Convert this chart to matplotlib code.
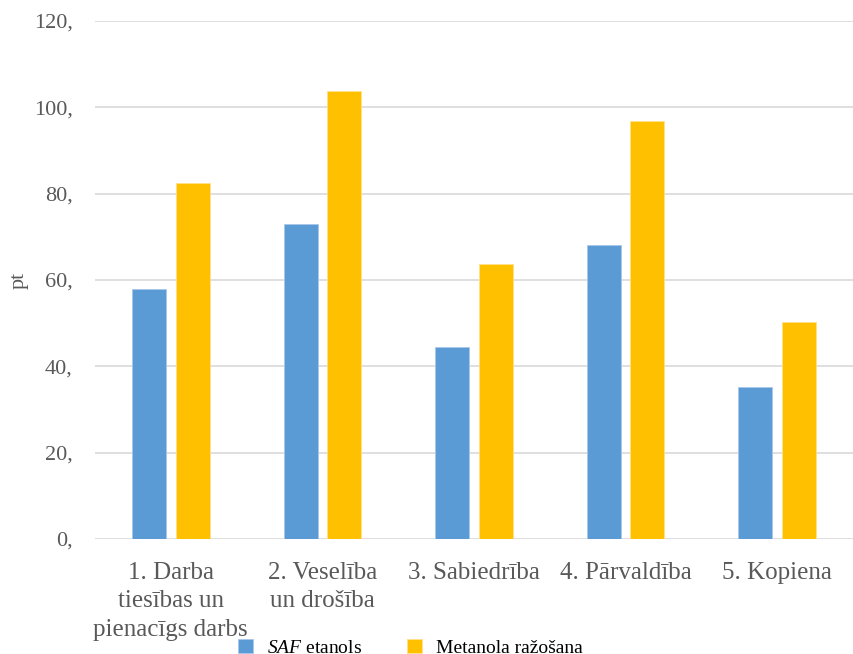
import matplotlib
matplotlib.use("Agg")
import matplotlib.pyplot as plt
import numpy as np

## Scores per sustainability category

categories = ["1. Darba\ntiesības un\npienacīgs darbs", "2. Veselība\nun drošība",
              "3. Sabiedrība", "4. Pārvaldība", "5. Kopiena"]
saf_etanols = [58, 73, 44.5, 68, 35.3]
metanols = [82.5, 103.8, 63.6, 96.8, 50.3]
yticks = [0, 20, 40, 60, 80, 100, 120]
ytick_labels = ["0,", "20,", "40,", "60,", "80,", "100,", "120,"]

plt.rcParams['font.family'] = ['Liberation Serif', 'DejaVu Serif']
plt.rcParams['mathtext.fontset'] = 'custom'
plt.rcParams['mathtext.rm'] = 'Liberation Serif'
plt.rcParams['mathtext.it'] = 'Liberation Serif:italic'

grey = '#595959'
x = np.arange(len(categories))
w = 0.225
off = 0.144

fig = plt.figure(figsize=(8.54, 6.54), dpi=100)
ax = fig.add_axes([95/854, 1 - 539/654, 758/854, 518/654])

ax.bar(x - off, saf_etanols, w, color='#5B9BD5', edgecolor='#a9c8ea', linewidth=0.6,
       label=r'$\mathit{SAF}$ etanols', zorder=3)
ax.bar(x + off, metanols, w, color='#FFC000', edgecolor='#ffe08a', linewidth=0.6,
       label='Metanola ražošana', zorder=3)

ax.set_xlim(-0.5, len(categories) - 0.5)
ax.set_ylim(0, 120)
ax.set_yticks(yticks)
ax.set_yticklabels(ytick_labels, fontsize=16)
ax.set_xticks(x)
ax.set_xticklabels(categories, linespacing=1.38, fontsize=18)
ax.tick_params(axis='both', length=0, colors=grey)
ax.tick_params(axis='y', pad=16)
ax.tick_params(axis='x', pad=16.5)
ax.grid(axis='y', color='#D9D9D9', linewidth=1.2, zorder=0)
for s in ax.spines.values():
    s.set_visible(False)
ax.set_ylabel('pt', color=grey, fontsize=16, labelpad=4)

fig.legend(loc='lower center', bbox_to_anchor=(0.481, -0.031), ncol=2, frameon=False,
           fontsize=14, handlelength=0.75, handleheight=0.75, columnspacing=2.3,
           handletextpad=0.75, labelcolor='black')

fig.savefig('out.png', dpi=100)
